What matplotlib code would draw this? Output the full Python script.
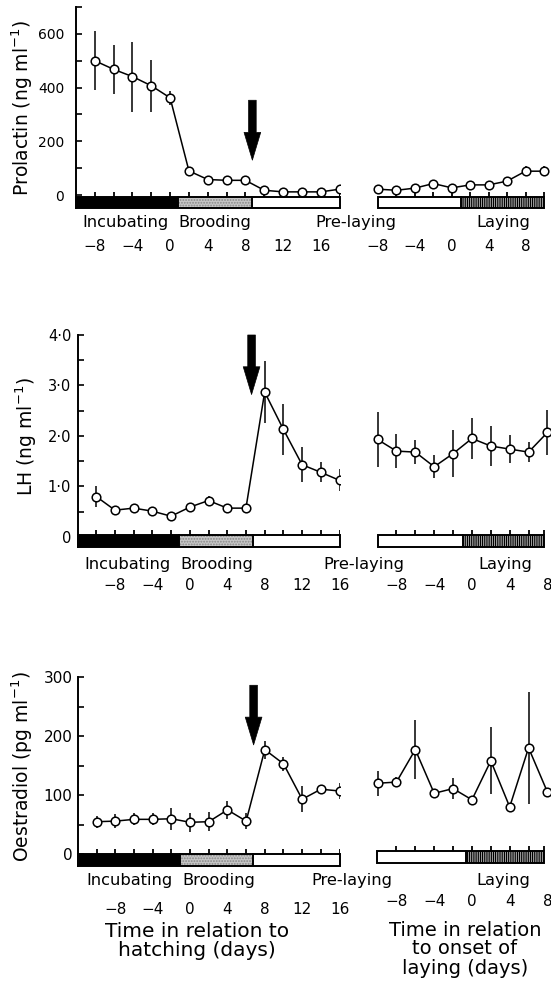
import matplotlib
matplotlib.use("Agg")
import matplotlib.pyplot as plt
from matplotlib.patches import Rectangle
import numpy as np

plt.rcParams['font.family'] = ['DejaVu Sans']
plt.rcParams['hatch.linewidth'] = 0.9

W, H = 551, 985

# ---- data (days relative to hatching / to onset of laying) ----
prl_days_h = np.arange(-8, 19, 2)
prl_h = [500, 468, 441, 407, 362, 90, 58, 55, 55, 18, 12, 12, 12, 22]
prl_h_err = [110, 92, 130, 97, 25, 12, 0, 0, 0, 0, 0, 0, 0, 0]
prl_days_l = np.arange(-8, 11, 2)
prl_l = [22, 18, 26, 43, 27, 38, 38, 52, 89, 89]
prl_l_err = [0, 0, 0, 0, 0, 0, 0, 0, 18, 18]

lh_days_h = np.arange(-10, 17, 2)
lh_h = [0.80, 0.53, 0.57, 0.51, 0.41, 0.59, 0.72, 0.57, 0.57, 2.87, 2.13, 1.43, 1.28, 1.12]
lh_h_err = [0.2, 0, 0, 0, 0, 0, 0.1, 0, 0, 0.62, 0.5, 0.35, 0.2, 0.22]
lh_days_l = np.arange(-10, 9, 2)
lh_l = [1.93, 1.70, 1.68, 1.39, 1.65, 1.95, 1.80, 1.74, 1.68, 2.07]
lh_l_err = [0.55, 0.33, 0.23, 0.23, 0.46, 0.4, 0.4, 0.27, 0.2, 0.45]

oe_days_h = np.arange(-10, 17, 2)
oe_h = [55, 56, 59, 59, 60, 54, 55, 75, 56, 177, 153, 93, 110, 107]
oe_h_err = [10, 12, 10, 10, 19, 16, 16, 15, 14, 15, 12, 22, 4, 13]
oe_days_l = np.arange(-10, 9, 2)
oe_l = [115, 117, 172, 98, 106, 87, 153, 75, 175, 100]
oe_l_err = [21, 8, 50, 0, 18, 0, 57, 0, 95, 0]

# phase boundaries (days) of the state bars
prl_phase_h = [-10, 0.85, 8.74, 18.05]
lh_phase_h = [-12, -1.2, 6.7, 16.0]
oe_phase_h = [-12, -1.1, 6.7, 16.0]
prl_phase_l = [-8, 1.0, 10]
lh_phase_l = [-10, -0.9, 7.65]
oe_phase_l = [-10.05, -0.65, 7.6]

tick_lbl_h = ['\u22128', '\u22124', '0', '4', '8', '12', '16']
tick_pos_h = [-8, -4, 0, 4, 8, 12, 16]
tick_lbl_l = ['\u22128', '\u22124', '0', '4', '8']
tick_pos_l = [-8, -4, 0, 4, 8]

fig = plt.figure(figsize=(W / 100, H / 100), dpi=100)


def rect(x0, x1, y0, y1):
    return [x0 / W, 1 - y1 / H, (x1 - x0) / W, (y1 - y0) / H]


def ftext(x, y, s, **kw):
    fig.text(x / W, 1 - y / H, s, ha='center', va='center', **kw)


def phase_bar(ax, edges, kinds, lo, hi, days, tlen):
    styles = {'inc': ('black', None, 'black'),
              'brood': ('#c6c6c6', '......', '#888888'),
              'pre': ('white', None, 'black'),
              'lay': ('white', '|||||||||', 'black')}
    for a, b, k in zip(edges[:-1], edges[1:], kinds):
        fc, hatch, hc = styles[k]
        ax.add_patch(Rectangle((a, lo), b - a, hi - lo, facecolor=fc, edgecolor=hc,
                               hatch=hatch, lw=0, clip_on=False))
    ax.add_patch(Rectangle((edges[0], lo), edges[-1] - edges[0], hi - lo, fill=False,
                           edgecolor='black', lw=1.4, clip_on=False, zorder=3))
    for e in edges[1:-1]:
        ax.plot([e, e], [lo, hi], color='black', lw=1.4, zorder=3)
    tx = sorted(set([d for d in days if edges[0] + 0.3 < d <= edges[-1] + 0.1] + [edges[-1]]))
    ax.vlines(tx, hi, hi + tlen, color='black', lw=1.3)


def series(ax, d, v, e):
    ax.errorbar(d, v, yerr=e, fmt='-o', color='black', lw=1.1, elinewidth=1.1,
                capsize=0, ms=6.2, mfc='white', mec='black', mew=1.1, zorder=4)


def left_axes(r, xlim, ylim, major, minor, labels, size, pad):
    ax = fig.add_axes(r)
    ax.set_xlim(*xlim)
    ax.set_ylim(*ylim)
    for s in ['top', 'right', 'bottom']:
        ax.spines[s].set_visible(False)
    ax.spines['left'].set_linewidth(1.4)
    ax.set_yticks(major)
    ax.set_yticklabels(labels, fontsize=size)
    ax.set_yticks(minor, minor=True)
    ax.tick_params(axis='y', which='both', direction='in', length=4, width=1.2, pad=pad)
    ax.tick_params(axis='x', length=0, labelsize=11)
    ax.patch.set_alpha(0)
    return ax


def right_axes(r, xlim, ylim):
    ax = fig.add_axes(r)
    ax.set_xlim(*xlim)
    ax.set_ylim(*ylim)
    for s in ax.spines.values():
        s.set_visible(False)
    ax.set_yticks([])
    ax.tick_params(axis='x', length=0, labelsize=11)
    ax.patch.set_alpha(0)
    return ax


def arrow(ax, x, y0, y1):
    ax.annotate('', xy=(x, y1), xytext=(x, y0),
                arrowprops=dict(arrowstyle='simple,head_length=20,head_width=12,tail_width=5.5',
                                mutation_scale=1, shrinkA=0, shrinkB=0, fc='black', ec='black', lw=0.5))


def phase_names(y, xs):
    for x, s in zip(xs, ['Incubating', 'Brooding', 'Pre-laying', 'Laying']):
        ftext(x, y, s, fontsize=11.7)


# ---------------- Prolactin ----------------
ax = left_axes(rect(76, 340, 7, 208), (-10, 18.05), (-48, 700),
               [0, 200, 400, 600], [100, 300, 500, 700], ['0', '200', '400', '600'], 10, 8.5)
phase_bar(ax, prl_phase_h, ['inc', 'brood', 'pre'], -48, -6, prl_days_h, 18)
series(ax, prl_days_h, prl_h, prl_h_err)
arrow(ax, 8.74, 353, 130)
ax.set_xticks(tick_pos_h)
ax.set_xticklabels(tick_lbl_h)
ax.tick_params(axis='x', pad=22)

ax = right_axes(rect(370, 560, 7, 208), (-8.87, 11.74), (-48, 700))
phase_bar(ax, prl_phase_l, ['pre', 'lay'], -48, -6, prl_days_l, 18)
series(ax, prl_days_l, prl_l, prl_l_err)
ax.set_xticks(tick_pos_l)
ax.set_xticklabels(tick_lbl_l)
ax.tick_params(axis='x', pad=22)

ftext(22, 108, 'Prolactin (ng ml$^{-1}$)', rotation=90, fontsize=13.5)
phase_names(222, [126, 215, 356, 503])

# ---------------- LH ----------------
ax = left_axes(rect(77.5, 340, 335, 547), (-12, 16.05), (-0.2, 4.0),
               [0, 1, 2, 3, 4], [0.5, 1.5, 2.5, 3.5],
               ['0', '1\u00b70', '2\u00b70', '3\u00b70', '4\u00b70'], 10.5, 4.5)
phase_bar(ax, lh_phase_h, ['inc', 'brood', 'pre'], -0.2, 0.04, lh_days_h, 0.1)
series(ax, lh_days_h, lh_h, lh_h_err)
arrow(ax, 6.6, 4.0, 2.82)
ax.set_xticks(tick_pos_h)
ax.set_xticklabels(tick_lbl_h)
ax.tick_params(axis='x', pad=22)

ax = right_axes(rect(370, 560, 335, 547), (-10.8, 9.33), (-0.2, 4.0))
phase_bar(ax, lh_phase_l, ['pre', 'lay'], -0.2, 0.04, lh_days_l, 0.1)
series(ax, lh_days_l, lh_l, lh_l_err)
ax.set_xticks(tick_pos_l)
ax.set_xticklabels(tick_lbl_l)
ax.tick_params(axis='x', pad=22)

ftext(26, 437, 'LH (ng ml$^{-1}$)', rotation=90, fontsize=13.5)
phase_names(564, [127, 217, 364, 505])

# ---------------- Oestradiol ----------------
ax = left_axes(rect(78, 340, 677, 866), (-12, 16.05), (-20, 300),
               [0, 100, 200, 300], [50, 150, 250], ['0', '100', '200', '300'], 11, 4)
phase_bar(ax, oe_phase_h, ['inc', 'brood', 'pre'], -20, 1, oe_days_h, 8.5)
series(ax, oe_days_h, oe_h, oe_h_err)
arrow(ax, 6.8, 286, 185)
ax.set_xticks(tick_pos_h)
ax.set_xticklabels(tick_lbl_h)
ax.tick_params(axis='x', pad=26)

ax = right_axes(rect(370, 560, 674, 863), (-10.8, 9.33), (-20, 300))
phase_bar(ax, oe_phase_l, ['pre', 'lay'], -20, 1, oe_days_l, 8.5)
series(ax, oe_days_l, oe_l, oe_l_err)
ax.set_xticks(tick_pos_l)
ax.set_xticklabels(tick_lbl_l)
ax.tick_params(axis='x', pad=22)

ftext(22, 767, 'Oestradiol (pg ml$^{-1}$)', rotation=90, fontsize=13.5)
phase_names(880, [129, 219, 352, 503])

ftext(197, 941, 'Time in relation to\nhatching (days)', fontsize=14.5, linespacing=1.05)
ftext(465, 949, 'Time in relation\nto onset of\nlaying (days)', fontsize=14, linespacing=1.0)

fig.savefig('out.png', dpi=100)
